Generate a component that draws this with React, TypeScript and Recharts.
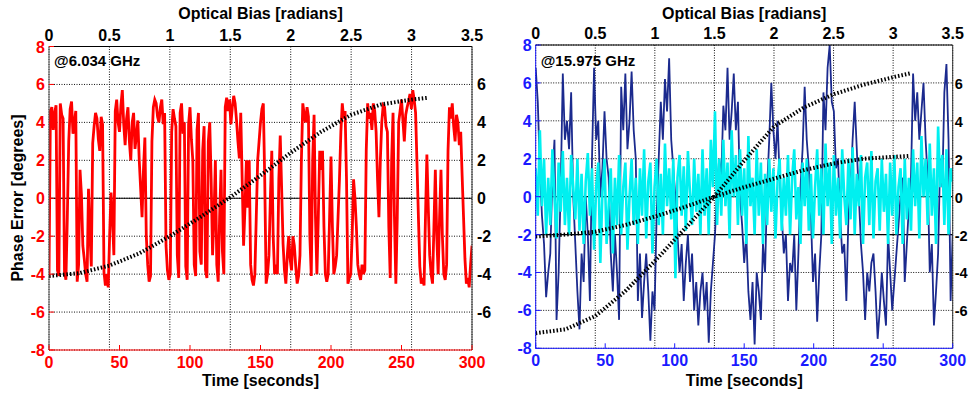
import { CartesianGrid, ComposedChart, Line, ReferenceLine, XAxis, YAxis } from "recharts";

const timeTicks = [0, 50, 100, 150, 200, 250, 300];
const biasTicks = [0, 0.5, 1, 1.5, 2, 2.5, 3, 3.5];
const leftTicks = [-8, -6, -4, -2, 0, 2, 4, 6, 8];
const rightTicks = [-6, -4, -2, 0, 2, 4, 6];

// optical bias samples for the dotted fit curves
const biasPoints = [0, 0.25, 0.5, 0.75, 1, 1.25, 1.5, 1.75, 2, 2.25, 2.5, 2.75, 3, 3.14];
const fit6GHz = [-4.1, -3.95, -3.55, -2.9, -2.0, -1.0, 0.05, 1.2, 2.4, 3.5, 4.4, 4.95, 5.2, 5.3];
const fit16Steep = [-7.2, -7.0, -6.3, -5.0, -3.4, -1.7, 0.0, 1.9, 3.7, 4.7, 5.4, 5.9, 6.3, 6.5];
const fit16Shallow = [-2.1, -2.0, -1.85, -1.5, -1.05, -0.55, 0.0, 0.5, 0.95, 1.4, 1.75, 2.0, 2.1, 2.15];

// phase error at 6.034 GHz, one sample per second
const redStep = 1;
const red6GHz = [
  -4.2, 4.6, 4.8, 3.6, 4.5, 4.9, -3.8, -4.1, 5.0, 4.4,
  4.2, -3.9, -4.3, -1.0, 3.0, 4.7, 5.1, 3.4, 4.0, 4.6,
  -4.4, -3.5, 1.5, 0.2, -2.5, -3.2, -4.0, -4.4, 0.5, -1.8,
  -3.6, 2.9, 3.8, 4.5, 4.2, 3.1, 2.5, 4.3, 3.9, -3.9,
  -4.6, -4.0, -4.7, -2.0, 0.3, -1.0, -3.0, 4.6, 5.2, 4.0,
  3.5, 4.9, 5.7, 3.9, 2.8, 4.2, 4.8, 3.0, 2.0, 4.0,
  4.5, 2.6, 3.3, 4.1, 2.0, 0.5, -1.0, 1.5, 3.2, -2.0,
  -3.5, -4.4, -4.1, 3.0, 4.8, 5.2, 5.0, 4.3, 4.0, 4.8,
  5.2, 3.9, 4.5, -2.5, -3.8, -4.3, -4.0, 3.5, 4.7, 4.2,
  3.8, -3.0, -4.2, 4.5, 5.0, 3.4, 4.0, -3.6, -4.3, 3.9,
  4.8, 3.1, 2.0, -3.5, -4.1, 3.6, 4.5, -2.8, -3.5, 2.5,
  3.8, -3.8, -4.2, 3.0, 4.0, 1.0, -3.0, -1.0, 2.0, -3.5,
  -4.4, -1.0, 1.5, -2.8, -4.0, 4.8, 5.3, 4.6, 5.2, 3.9,
  4.8, 5.4, 5.0, 4.1, 3.0, 2.1, 4.5, 1.0, -2.5, -0.5,
  2.0, -0.5, 2.0, -3.5, -4.3, -4.6, -4.0, -1.0, 2.0, 3.0,
  4.0, 4.7, 5.0, 1.0, -4.5, -4.0, -3.0, 0.0, 2.5, -2.0,
  -4.0, -3.5, -4.0, 1.0, 3.3, 0.5, -2.4, -3.8, -4.5, -3.0,
  -2.0, -3.2, -3.8, -2.0, -2.5, -3.6, -4.5, -4.1, -3.0, 2.0,
  5.0, 4.4, 4.0, 4.8, 4.3, -2.0, -4.1, 2.0, 4.4, -1.0,
  -4.0, -1.0, 2.5, 1.5, 2.5, -1.5, -4.0, -4.4, -4.0, -1.0,
  2.2, -1.5, -4.0, -3.6, -3.0, -1.0, 1.0, 3.5, 5.0, 4.2,
  4.6, 1.0, -4.5, -4.2, -4.0, -2.0, 1.0, 0.0, -1.5, -3.5,
  -4.0, -4.3, -3.5, -4.0, -3.8, 2.5, 5.0, 4.2, 4.5, 3.6,
  5.0, 4.6, 3.5, 1.0, -1.0, 2.0, 4.0, 4.9, 4.8, 3.8,
  3.5, -1.5, -4.2, 2.0, 4.5, -1.0, -4.5, -1.0, 4.0, 4.6,
  5.2, 4.1, 3.0, 4.4, 4.8, 5.1, 5.5, 4.7, 5.7, 5.2,
  4.5, 1.8, -1.0, -3.6, -4.5, -4.2, -4.6, -1.0, 2.3, -0.5,
  -3.0, -4.0, -4.5, -1.5, 1.5, -2.0, -4.0, -1.0, 1.5, -2.0,
  -4.0, -4.3, -3.5, 2.5, 4.8, 4.2, 5.0, 3.8, 3.0, 4.4,
  4.0, 2.8, 3.5, 1.2, -1.0, -3.2, -4.5, -4.2, -4.7, -3.5,
  -2.5,
];

// phase error at 15.975 GHz, one sample every 1.5 s
const blueStep = 1.5;
const navy16GHz = [
  6.8, 5.0, 1.5, -1.0, -2.5, -5.3, -4.0, -3.0, 1.0, 3.0,
  -6.5, -4.0, 0.5, 6.5, 3.0, 4.0, 2.5, 5.5, 0.0, -2.5,
  -5.0, -7.0, -3.0, -4.5, 0.0, -2.0, -5.5, 2.0, 6.8, 3.0,
  4.0, 0.0, 1.5, 4.5, 2.0, 1.0, -3.0, -5.0, -2.0, -4.0,
  -6.5, 5.8, 3.5, 6.5, 2.5, 4.0, 6.6, 3.5, 2.0, -5.5,
  -3.0, -6.4, -4.5, -3.0, -5.0, -7.6, -5.0, -6.0, -1.0, 2.0,
  5.0, 3.0, 6.2, 4.5, 7.3, 3.0, 1.5, 0.0, -2.0, -4.0,
  -2.5, -5.5, -3.5, -2.0, -4.5, -3.0, -6.0, -4.5, -6.8, -5.0,
  -4.0, -6.0, -4.5, -7.7, -5.0, -3.5, -2.0, 0.5, 2.0, 1.0,
  4.8, 3.5, 6.8, 3.0, 4.5, 6.5, 3.5, 5.0, 0.0, -1.5,
  -3.5, -2.0, -5.0, -6.5, -4.5, -7.8, -4.0, -5.0, -6.5, -2.5,
  -4.0, 0.5, 3.0, 6.0, 3.5, 2.0, 4.0, 1.0, -1.0, -3.0,
  -2.0, -5.5, -3.5, -4.0, -2.0, -6.0, -3.0, 0.5, 2.5, 5.8,
  3.0, 1.5, -1.0, -4.5, -3.0, -6.6, -4.0, -2.0, 5.5, 3.5,
  6.8, 8.0, 5.0, 4.5, 1.5, 2.0, -1.0, -3.0, -2.5, -5.5,
  -1.0, 0.5, 3.0, 5.0, 2.5, 0.0, -2.5, -4.0, -6.5, -4.0,
  -5.0, -3.5, -3.0, -5.0, -7.5, -6.0, -4.0, -5.5, -6.8, -2.0,
  -4.0, -6.0, -4.5, -3.0, -1.5, 0.0, 1.0, -4.5, -2.5, -0.5,
  1.0, 6.5, 4.0, 5.5, 3.0, 4.5, 6.0, 3.0, 1.0, -4.0,
  -2.5, -6.8, -5.0, -3.0, 2.0, 0.5, 5.5, 7.0, 3.0, -5.5,
  -2.0,
];
const cyan16GHz = [
  1.5, -1.0, 3.5, -0.5, 2.0, -2.0, 1.0, -1.5, 2.5, 0.0,
  -2.2, 1.8, -0.8, 2.4, -1.5, 1.0, -2.0, 2.2, 0.5, -1.2,
  2.0, -1.8, 1.2, -2.5, 0.8, 2.3, -1.0, 1.5, -2.8, 0.5,
  1.8, -3.5, 0.2, 2.0, -2.5, -0.5, 1.5, -3.0, 1.0, -1.5,
  2.2, -2.0, 0.5, 1.8, -2.8, 0.0, 2.0, -1.5, 1.0, -2.5,
  1.5, -1.0, 2.5, -2.2, 0.8, 1.8, -3.0, 0.5, 2.0, -1.5,
  1.2, -2.0, 2.8, -0.5, 1.5, -1.2, 2.0, -4.3, 1.0, 2.2,
  -1.0, 1.6, -1.8, 2.4, 0.2, -1.5, 2.0, -0.8, 1.2, -2.0,
  2.5, -1.0, 1.5, -2.0, 3.0, 0.5, 4.5, -1.5, 2.0, -1.0,
  3.0, -0.5, 1.8, -2.2, 3.5, 0.0, 2.2, -1.5, 2.5, -1.0,
  1.5, -2.5, 3.2, -0.5, 1.0, -2.0, 2.5, -1.0, 1.8, -2.5,
  1.2, -1.5, 2.0, -0.8, 1.5, -2.2, 0.8, 2.0, -1.8, 1.0,
  -1.0, 2.2, -2.0, 1.0, 2.5, -1.2, 0.5, -2.5, 1.8, -0.5,
  2.0, -1.8, 1.2, -2.2, 0.5, 2.5, -1.0, 1.5, -2.0, 2.8,
  -0.5, 1.8, -2.5, 2.2, -1.0, 1.0, -2.2, 2.5, 0.0, -1.5,
  2.0, -1.2, 2.6, -2.0, 1.2, -0.5, 2.2, -2.5, 1.0, 1.8,
  -1.5, 2.4, -2.2, 0.8, 1.5, -1.8, 2.0, -0.8, 1.2, -2.5,
  1.8, -1.0, 2.2, -2.0, 0.5, 1.5, -2.5, 2.0, -1.2, 1.0,
  -1.8, 2.5, -0.5, 1.8, -2.2, 3.2, 0.0, 2.0, -1.5, 2.8,
  -1.0, 1.5, -2.5, 3.7, 0.5, 2.2, -1.5, 2.5, -2.0, 1.5,
  0.8,
];

const H = 395;
const FONT = "'Liberation Sans', Arial, Helvetica, sans-serif";
const RED = "#ff0000";
const BLUE = "#1a1aff";
const NAVY = "#1b2a8e";
const CYAN = "#00f0f0";

const timed = (vals: number[], step: number) => vals.map((v, i) => ({ t: i * step, v }));
const biased = (vals: number[]) => biasPoints.map((b, i) => ({ b, v: vals[i] }));

const txt = { fontFamily: FONT, fontSize: 16, fontWeight: 700 };

const topTick = (p: any) => (
  <text x={p.x} y={p.y - 6} textAnchor="middle" fill="#000" style={txt}>
    {p.payload.value}
  </text>
);
const bottomTick = (color: string) => (p: any) => (
  <g>
    <line x1={p.x} y1={p.y} x2={p.x} y2={p.y - 5} stroke={color} />
    <text x={p.x} y={p.y + 18} textAnchor="middle" fill={color} style={txt}>
      {p.payload.value}
    </text>
  </g>
);
const leftTick = (color: string) => (p: any) => (
  <g>
    <line x1={p.x} y1={p.y} x2={p.x + 5} y2={p.y} stroke={color} />
    <text x={p.x - 4} y={p.y + 6} textAnchor="end" fill={color} style={txt}>
      {p.payload.value}
    </text>
  </g>
);
const rightTick = (gap: number, size: number) => (p: any) => (
  <text x={p.x + gap} y={p.y + 6} textAnchor="start" fill="#000" style={{ ...txt, fontSize: size }}>
    {p.payload.value}
  </text>
);

type Series = { data: any[]; axis: string; color: string; width: number; dash?: string };

function Panel({ geo, color, frame, tag, series, solid, gap, rightSize }: any) {
  const center = (geo.plotL + geo.plotR) / 2;
  return (
    <>
      <div style={{ position: "absolute", left: geo.x, top: 0 }}>
        <ComposedChart width={geo.w} height={H} margin={{ top: 0, right: 0, bottom: 0, left: 0 }}>
          <XAxis xAxisId="b" orientation="top" type="number" dataKey="b" domain={[0, 3.5]}
            ticks={biasTicks} height={geo.plotT} tickSize={0} tickMargin={0} tickLine={false}
            tick={topTick} axisLine={{ stroke: "#000" }} allowDataOverflow interval={0} />
          <XAxis xAxisId="t" orientation="bottom" type="number" dataKey="t" domain={[0, 300]}
            ticks={timeTicks} height={H - geo.plotB} tickSize={0} tickMargin={0} tickLine={false}
            tick={bottomTick(color)} axisLine={{ stroke: color }} allowDataOverflow interval={0} />
          <YAxis yAxisId="l" orientation="left" type="number" domain={[-8, 8]} ticks={leftTicks}
            width={geo.plotL - geo.x} tickSize={0} tickMargin={0} tickLine={false}
            tick={leftTick(color)} axisLine={{ stroke: frame }} allowDataOverflow interval={0} />
          <YAxis yAxisId="r" orientation="right" type="number" domain={[-8, 8]} ticks={rightTicks}
            width={geo.x + geo.w - geo.plotR} tickSize={0} tickMargin={0} tickLine={false}
            tick={rightTick(gap, rightSize)} axisLine={{ stroke: "#333" }} allowDataOverflow interval={0} />
          <CartesianGrid xAxisId="b" yAxisId="l" stroke="#111" strokeDasharray="1 1.5" />
          {solid.map((y: number) => (
            <ReferenceLine key={y} xAxisId="t" yAxisId="l" y={y} stroke="#000" strokeWidth={1.2} />
          ))}
          {series.map((s: Series, i: number) => (
            <Line key={i} data={s.data} xAxisId={s.axis} yAxisId="l" dataKey="v" type="linear"
              stroke={s.color} strokeWidth={s.width} strokeDasharray={s.dash} dot={false}
              isAnimationActive={false} />
          ))}
        </ComposedChart>
      </div>
      <div style={{ position: "absolute", left: center, top: 14, transform: "translate(-50%, -50%)", ...txt, whiteSpace: "nowrap" }}>
        Optical Bias [radians]
      </div>
      <div style={{ position: "absolute", left: center, top: 381, transform: "translate(-50%, -50%)", ...txt, whiteSpace: "nowrap" }}>
        Time [seconds]
      </div>
      <div style={{ position: "absolute", left: geo.plotL + 5, top: 60, transform: "translateY(-50%)", ...txt, fontSize: 15, whiteSpace: "nowrap" }}>
        {tag}
      </div>
    </>
  );
}

const LEFT = { x: 0, w: 505, plotL: 49, plotR: 472, plotT: 46.5, plotB: 350 };
const RIGHT = { x: 505, w: 464, plotL: 535.7, plotR: 952.7, plotT: 45, plotB: 348.3 };

export default function App() {
  const dotted = { color: "#000", width: 4, dash: "1.5 2" };
  return (
    <div style={{ position: "absolute", left: 0, top: 0, width: 969, height: H, background: "#fff", overflow: "hidden" }}>
      <Panel geo={LEFT} color={RED} frame="#555" tag="@6.034 GHz" gap={5} rightSize={16} solid={[0]}
        series={[
          { data: timed(red6GHz, redStep), axis: "t", color: RED, width: 2.8 },
          { data: biased(fit6GHz), axis: "b", ...dotted },
        ]} />
      <Panel geo={RIGHT} color={BLUE} frame={BLUE} tag="@15.975 GHz" gap={2} rightSize={14.5} solid={[0, -2]}
        series={[
          { data: timed(navy16GHz, blueStep), axis: "t", color: NAVY, width: 1.8 },
          { data: timed(cyan16GHz, blueStep), axis: "t", color: CYAN, width: 2.6 },
          { data: biased(fit16Steep), axis: "b", ...dotted },
          { data: biased(fit16Shallow), axis: "b", ...dotted },
        ]} />
      <div style={{ position: "absolute", left: 18, top: 198, transform: "translate(-50%, -50%) rotate(-90deg)", ...txt, whiteSpace: "nowrap" }}>
        Phase Error [degrees]
      </div>
    </div>
  );
}
